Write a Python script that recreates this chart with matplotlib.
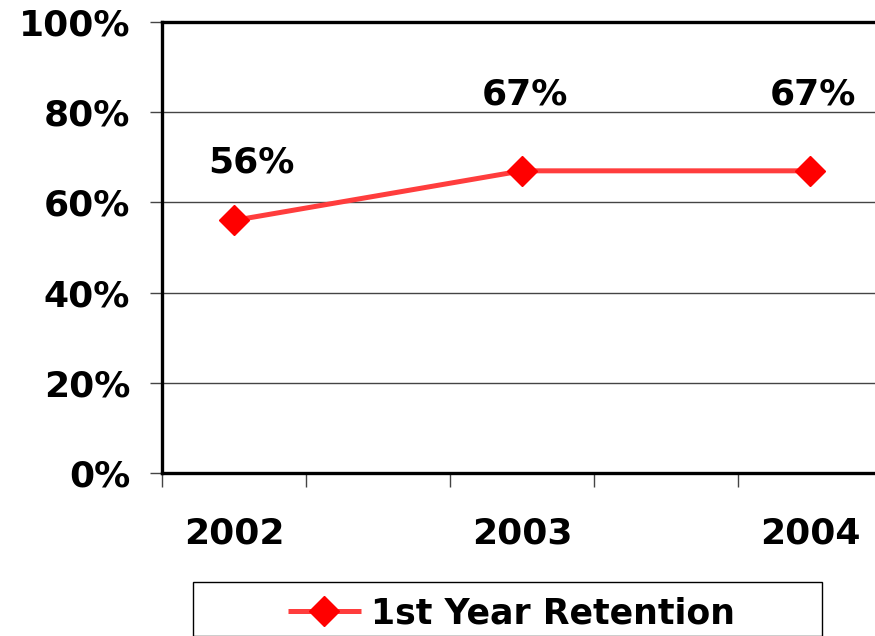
import numpy as np
import matplotlib.pyplot as plt
from matplotlib.ticker import FixedLocator
from matplotlib.patches import Rectangle

years = ["2002", "2003", "2004"]
retention = [56, 67, 67]
label_offsets = [(17, 58), (3, 76), (3, 76)]   # px offsets of the value labels
series_name = "1st Year Retention"
y_ticks = [0, 20, 40, 60, 80, 100]

plt.rcParams['font.family'] = ['Verdana', 'DejaVu Sans']
plt.rcParams['font.weight'] = 'bold'
FS = 26

fig = plt.figure(figsize=(8.75, 6.36), dpi=100)
ax = fig.add_axes([162/875, 1 - 473/636, 1 - 162/875, (473 - 22)/636])

x = np.arange(len(years))
line, = ax.plot(x, retention, color="#ff3d3d", lw=3.6, marker="D", ms=15,
                markerfacecolor="red", markeredgecolor="red", solid_capstyle="butt",
                label=series_name)

for xi, v, (dx, dy) in zip(x, retention, label_offsets):
    ax.annotate(f"{v}%", (xi, v), xytext=(dx * 0.72, dy * 0.72), textcoords="offset points",
                ha="center", va="center", fontsize=FS, fontweight="bold")

ax.set_ylim(0, 100)
ax.set_xlim(-0.25, 2.226)
ax.set_yticks(y_ticks)
ax.set_yticklabels([f"{t}%" for t in y_ticks], fontsize=FS, fontweight="bold")
ax.set_xticks(x)
ax.set_xticklabels(years, fontsize=FS, fontweight="bold")
ax.tick_params(axis="x", which="major", length=0, pad=31)
ax.xaxis.set_minor_locator(FixedLocator(np.arange(-0.25, 2.2, 0.5)))
ax.tick_params(axis="x", which="minor", length=10, width=1, color="#444444")
ax.tick_params(axis="y", length=9, width=1, color="#444444", pad=14)

ax.yaxis.grid(True, color="#444444", lw=1)
ax.set_axisbelow(True)
for side in ["left", "bottom", "top"]:
    ax.spines[side].set_linewidth(2.4)
    ax.spines[side].set_color("black")
ax.spines["right"].set_visible(False)

# legend frame drawn by hand, wider than the entry
fig.patches.append(Rectangle((193/875, 0), (822 - 193)/875, 1 - 582/636,
                             transform=fig.transFigure, fill=False,
                             edgecolor="black", lw=1))
leg = fig.legend(handles=[line], loc="center left", bbox_to_anchor=(288/875, 1 - 613/636),
                 frameon=False, prop={"weight": "bold", "size": 25}, handlelength=2.1,
                 handletextpad=0.3, borderpad=0, borderaxespad=0)

fig.savefig("out.png", dpi=100)
